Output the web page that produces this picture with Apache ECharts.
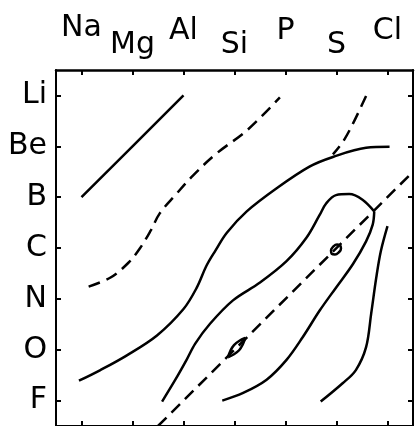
<!DOCTYPE html>
<html>
<head>
<meta charset="utf-8">
<script src="https://cdn.jsdelivr.net/npm/echarts@6/dist/echarts.min.js"></script>
<style>
html,body{margin:0;padding:0;background:#fff;}
#c{width:416px;height:426px;}
</style>
</head>
<body>
<div id="c"></div>
<script>
const xCats = ['Na','Mg','Al','Si','P','S','Cl'];
const yCats = ['Li','Be','B','C','N','O','F'];
// staggered rows of the top labels
const lowRow = ['Mg','Si','S'];
const highRow = ['Al','P','Cl'];
const topRow = ['Na'];

// contour lines, [x index, y index] (Li = 0 at top)
const solidA = [[0,2],[1,1],[2,0]];
const dashedB = [[0.14,3.76],[0.57,3.58],[0.92,3.29],[1.15,3.0],[1.35,2.67],[1.54,2.31],[1.84,1.96],[2.19,1.57],[2.65,1.14],[3.24,0.69],[3.89,0.04]];
const dashedC = [[5.58,0.01],[5.32,0.56],[5.12,0.92],[4.93,1.16]];
const solidD = [[-0.05,5.61],[0.37,5.40],[0.89,5.11],[1.48,4.72],[2.0,4.20],[2.26,3.78],[2.45,3.35],[2.62,3.06],[2.85,2.70],[3.24,2.28],[3.82,1.83],[4.47,1.40],[4.93,1.21],[5.58,1.03],[6.04,1.01]];
const solidE1 = [[1.58,6.02],[1.84,5.59],[2.06,5.2],[2.23,4.88],[2.52,4.49],[2.97,4.03],[3.5,3.68],[4.02,3.26],[4.41,2.8],[4.67,2.35],[4.8,2.12],[4.99,1.96],[5.25,1.94],[5.51,2.05],[5.74,2.28]];
const solidE2 = [[5.74,2.28],[5.71,2.54],[5.58,2.87],[5.32,3.32],[4.99,3.78],[4.67,4.23],[4.34,4.75],[4.02,5.2],[3.63,5.59],[3.17,5.85],[2.76,6.0]];
const solidF = [[6.0,2.57],[5.87,3.06],[5.78,3.58],[5.68,4.29],[5.58,4.95],[5.38,5.40],[5.12,5.66],[4.69,6.02]];
const dashedDiag = [[1.5,6.5],[6.5,1.5]];
const loopSmall1 = [[2.87,5.15],[2.99,5.09],[3.09,5.01],[3.16,4.90],[3.21,4.77],[3.09,4.83],[2.99,4.91],[2.92,5.02],[2.87,5.15]];
const loopSmall2 = [[5.073,2.947],[5.088,3.010],[5.045,3.085],[4.970,3.128],[4.907,3.113],[4.892,3.050],[4.935,2.975],[5.010,2.932],[5.073,2.947]];

const FONT = 'DejaVu Sans';
const FS = 30;
const LW = 2.5;

const lineAxis = (w) => ({show: true, onZero: false, lineStyle: {color: '#000', width: w}});
const tick = {show: true, inside: true, alignWithLabel: true, length: 5, lineStyle: {color: '#000', width: 2}};
const labelRow = (row, margin) => ({
  interval: 0, margin: margin, color: '#000', fontFamily: FONT, fontSize: FS,
  formatter: (v) => row.indexOf(v) >= 0 ? v : ''
});
const topLabelAxis = (row, margin) => ({
  type: 'category', position: 'top', data: xCats, boundaryGap: true,
  axisLine: {show: false, onZero: false}, axisTick: {show: false}, splitLine: {show: false},
  axisLabel: labelRow(row, margin)
});

const chart = echarts.init(document.getElementById('c'));
const mk = (data, dashed, smooth) => ({
  type: 'line', xAxisIndex: 2, yAxisIndex: 2, data: data,
  showSymbol: false, symbol: 'none', smooth: smooth === undefined ? 0.35 : smooth,
  lineStyle: {color: '#000', width: LW, type: dashed ? [12, 7] : 'solid'},
  silent: true, animation: false
});

chart.setOption({
  animation: false,
  backgroundColor: '#fff',
  grid: {left: 56, top: 70, width: 357, height: 357, containLabel: false},
  xAxis: [
    {type: 'category', position: 'top', data: xCats, boundaryGap: true,
     axisLine: lineAxis(2.5), axisTick: tick, splitLine: {show: false},
     axisLabel: labelRow(lowRow, 10)},
    {type: 'category', position: 'bottom', data: xCats, boundaryGap: true,
     axisLine: lineAxis(2), axisTick: tick, axisLabel: {show: false}, splitLine: {show: false}},
    {type: 'value', show: false, min: -0.5, max: 6.5},
    topLabelAxis(highRow, 24),
    topLabelAxis(topRow, 27)
  ],
  yAxis: [
    {type: 'category', position: 'left', data: yCats, inverse: true, boundaryGap: true,
     axisLine: lineAxis(2), axisTick: tick, splitLine: {show: false},
     axisLabel: {interval: 0, margin: 9, color: '#000', fontFamily: FONT, fontSize: FS}},
    {type: 'category', position: 'right', data: yCats, inverse: true, boundaryGap: true,
     axisLine: lineAxis(2), axisTick: tick, axisLabel: {show: false}, splitLine: {show: false}},
    {type: 'value', show: false, min: -0.5, max: 6.5, inverse: true}
  ],
  series: [
    mk(solidA, false, 0),
    mk(dashedB, true),
    mk(dashedC, true),
    mk(solidD, false),
    mk(solidE1, false),
    mk(solidE2, false),
    mk(solidF, false),
    mk(dashedDiag, true, 0),
    mk(loopSmall1, false, 0.4),
    mk(loopSmall2, false, 0.5)
  ]
});
</script>
</body>
</html>
